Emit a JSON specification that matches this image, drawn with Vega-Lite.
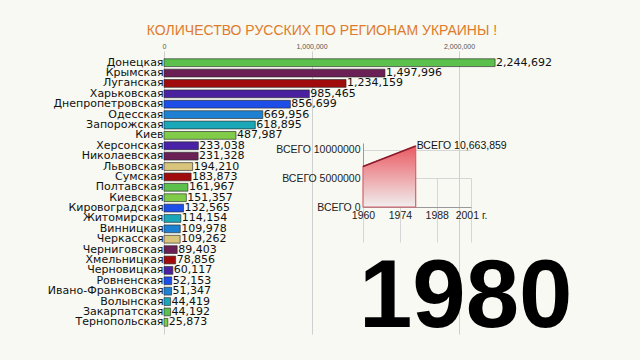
{
  "$schema": "https://vega.github.io/schema/vega-lite/v6.json",
  "width": 430,
  "height": 283,
  "autosize": {"type": "none"},
  "padding": {"left": 164, "top": 51, "right": 46, "bottom": 26},
  "background": "#f7f9f2",
  "title": {
    "text": "КОЛИЧЕСТВО РУССКИХ ПО РЕГИОНАМ УКРАИНЫ !",
    "color": "#e07b2c",
    "font": "Liberation Sans",
    "fontSize": 14,
    "fontWeight": "normal",
    "anchor": "middle",
    "dx": -57,
    "offset": 4
  },
  "config": {
    "view": {"stroke": null},
    "axis": {"labelFont": "Liberation Sans", "titleFont": "Liberation Sans"}
  },
  "datasets": {
    "regions": [
      {"region": "Донецкая", "value": 2244692},
      {"region": "Крымская", "value": 1497996},
      {"region": "Луганская", "value": 1234159},
      {"region": "Харьковская", "value": 985465},
      {"region": "Днепропетровская", "value": 856699},
      {"region": "Одесская", "value": 669956},
      {"region": "Запорожская", "value": 618895},
      {"region": "Киев", "value": 487987},
      {"region": "Херсонская", "value": 233038},
      {"region": "Николаевская", "value": 231328},
      {"region": "Львовская", "value": 194210},
      {"region": "Сумская", "value": 183873},
      {"region": "Полтавская", "value": 161967},
      {"region": "Киевская", "value": 151357},
      {"region": "Кировоградская", "value": 132565},
      {"region": "Житомирская", "value": 114154},
      {"region": "Винницкая", "value": 109978},
      {"region": "Черкасская", "value": 109262},
      {"region": "Черниговская", "value": 89403},
      {"region": "Хмельницкая", "value": 78856},
      {"region": "Черновицкая", "value": 60117},
      {"region": "Ровненская", "value": 52153},
      {"region": "Ивано-Франковская", "value": 51347},
      {"region": "Волынская", "value": 44419},
      {"region": "Закарпатская", "value": 44192},
      {"region": "Тернопольская", "value": 25873}
    ],
    "totals": [
      {"year": 1960, "total": 7090813},
      {"year": 1980, "total": 10663859}
    ]
  },
  "resolve": {"scale": {"x": "independent", "y": "independent"}, "axis": {"x": "independent", "y": "independent"}},
  "layer": [
    {
      "data": {"name": "regions"},
      "resolve": {"scale": {"x": "shared", "y": "shared", "color": "shared"}, "axis": {"x": "shared", "y": "shared"}},
      "encoding": {
        "y": {
          "field": "region",
          "type": "nominal",
          "sort": null,
          "scale": {
            "domain": ["Донецкая","Крымская","Луганская","Харьковская","Днепропетровская","Одесская","Запорожская","Киев","Херсонская","Николаевская","Львовская","Сумская","Полтавская","Киевская","Кировоградская","Житомирская","Винницкая","Черкасская","Черниговская","Хмельницкая","Черновицкая","Ровненская","Ивано-Франковская","Волынская","Закарпатская","Тернопольская"],
            "paddingInner": 0.25,
            "paddingOuter": 0.75
          },
          "axis": {
            "orient": "left",
            "title": null,
            "ticks": false,
            "domain": false,
            "labelPadding": 1,
            "labelFontSize": 11,
            "labelColor": "#111",
            "labelFont": "DejaVu Sans"
          }
        },
        "x": {
          "field": "value",
          "type": "quantitative",
          "scale": {"domain": [0, 2915254], "nice": false},
          "axis": {
            "orient": "top",
            "title": null,
            "values": [0, 1000000, 2000000],
            "labelExpr": "format(datum.value, ',')",
            "labelFlush": false,
            "ticks": false,
            "domain": false,
            "labelFontSize": 7,
            "labelColor": "#555",
            "labelPadding": 2,
            "grid": true,
            "gridColor": "#cfcfcf",
            "gridWidth": 1
          }
        }
      },
      "layer": [
        {
          "mark": {"type": "bar", "stroke": "#2a2a2a", "strokeWidth": 0.8, "strokeOpacity": 0.8},
          "encoding": {
            "color": {
              "field": "region",
              "type": "nominal",
              "legend": null,
              "scale": {
                "domain": ["Донецкая","Крымская","Луганская","Харьковская","Днепропетровская","Одесская","Запорожская","Киев","Херсонская","Николаевская","Львовская","Сумская","Полтавская","Киевская","Кировоградская","Житомирская","Винницкая","Черкасская","Черниговская","Хмельницкая","Черновицкая","Ровненская","Ивано-Франковская","Волынская","Закарпатская","Тернопольская"],
                "range": ["#5cc04c","#6a1f55","#a00c0c","#4a22a0","#1e4ee8","#1e80d0","#1aa8b8","#80cc48","#4a22a8","#6a1f55","#d8c47a","#a00c0c","#5cc04c","#80cc48","#1e4ee8","#1aa8b8","#1e80d0","#d8c47a","#6a1f55","#a00c0c","#4a22a0","#1e4ee8","#1e80d0","#1aa8b8","#5cc04c","#80cc48"]
              }
            }
          }
        },
        {
          "mark": {"type": "text", "align": "left", "baseline": "middle", "dx": 1, "fontSize": 11, "font": "DejaVu Sans", "color": "#111"},
          "encoding": {
            "text": {"field": "value", "type": "quantitative", "format": ","}
          }
        }
      ]
    },
    {
      "data": {"name": "totals"},
      "resolve": {"scale": {"x": "shared", "y": "shared"}, "axis": {"x": "shared", "y": "shared"}},
      "encoding": {
        "x": {
          "field": "year",
          "type": "quantitative",
          "scale": {"domain": [1960, 2001], "range": [199, 307], "nice": false, "zero": false},
          "axis": {
            "orient": "bottom",
            "offset": -127,
            "title": null,
            "values": [1960, 1974, 1988, 2001],
            "labelExpr": "datum.value == 2001 ? '2001 г.' : '' + datum.value",
            "labelOverlap": false,
            "labelFlush": false,
            "ticks": false,
            "domainColor": "#999",
            "labelFontSize": 10.5,
            "labelColor": "#222",
            "labelPadding": 3,
            "grid": true,
            "gridColor": "#d6d6d6"
          }
        },
        "y": {
          "field": "total",
          "type": "quantitative",
          "scale": {"domain": [0, 11200000], "range": [156, 92], "nice": false},
          "axis": {
            "orient": "left",
            "offset": -199,
            "title": null,
            "values": [0, 5000000, 10000000],
            "labelExpr": "'ВСЕГО  ' + datum.value",
            "labelOverlap": false,
            "labelFlush": false,
            "ticks": false,
            "domainColor": "#999",
            "labelFontSize": 10.5,
            "labelColor": "#222",
            "labelPadding": 3,
            "grid": true,
            "gridColor": "#d6d6d6"
          }
        }
      },
      "layer": [
        {
          "mark": {
            "type": "area",
            "stroke": "#d8606c",
            "strokeWidth": 1.2,
            "color": {
              "gradient": "linear",
              "x1": 0, "y1": 0, "x2": 0, "y2": 1,
              "stops": [
                {"offset": 0, "color": "#ea5a62"},
                {"offset": 1, "color": "#f0eeee"}
              ]
            }
          }
        },
        {
          "mark": {"type": "line", "color": "#8a1b2a", "strokeWidth": 1.5}
        },
        {
          "transform": [
            {"filter": "datum.year == 1980"},
            {"calculate": "'ВСЕГО  ' + format(datum.total, ',')", "as": "label"}
          ],
          "mark": {"type": "text", "align": "left", "baseline": "middle", "dx": 1, "fontSize": 10.5, "font": "Liberation Sans", "color": "#111"},
          "encoding": {"text": {"field": "label", "type": "nominal"}}
        },
        {
          "transform": [{"filter": "datum.year == 1980"}],
          "mark": {"type": "text", "align": "center", "baseline": "alphabetic", "dx": 50, "dy": 181, "fontSize": 96, "fontWeight": "bold", "font": "Liberation Sans", "color": "#000"},
          "encoding": {"text": {"field": "year", "type": "quantitative", "format": "d"}}
        }
      ]
    }
  ]
}
